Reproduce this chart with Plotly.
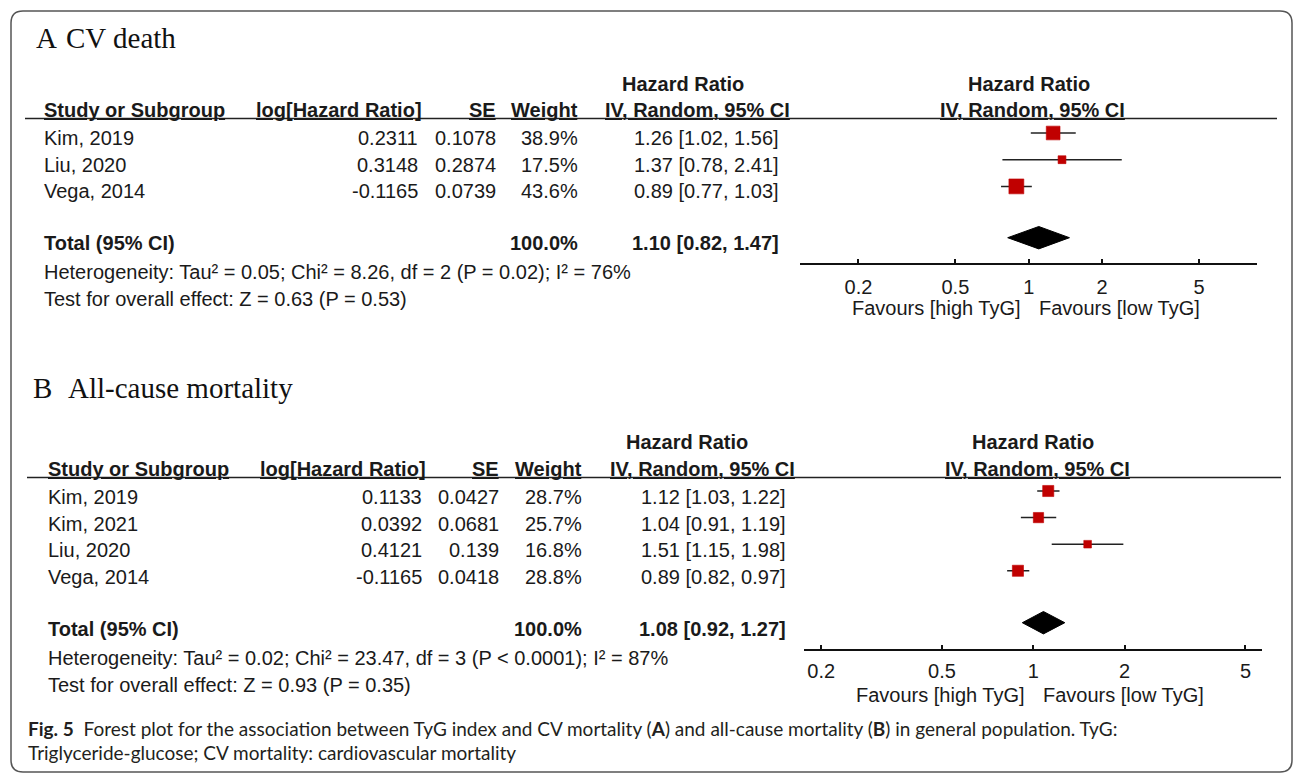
import numpy as np
import plotly.graph_objects as go

W, H = 1295, 776

# ---------------- data ----------------
# A: CV death
a_study = ["Kim, 2019", "Liu, 2020", "Vega, 2014"]
a_loghr = [0.2311, 0.3148, -0.1165]
a_se = [0.1078, 0.2874, 0.0739]
a_weight = [38.9, 17.5, 43.6]
a_hr = [1.26, 1.37, 0.89]
a_lo = [1.02, 0.78, 0.77]
a_hi = [1.56, 2.41, 1.03]
a_total = [1.10, 0.82, 1.47]
a_het = "Heterogeneity: Tau² = 0.05; Chi² = 8.26, df = 2 (P = 0.02); I² = 76%"
a_test = "Test for overall effect: Z = 0.63 (P = 0.53)"

# B: All-cause mortality
b_study = ["Kim, 2019", "Kim, 2021", "Liu, 2020", "Vega, 2014"]
b_loghr = [0.1133, 0.0392, 0.4121, -0.1165]
b_se = [0.0427, 0.0681, 0.139, 0.0418]
b_weight = [28.7, 25.7, 16.8, 28.8]
b_hr = [1.12, 1.04, 1.51, 0.89]
b_lo = [1.03, 0.91, 1.15, 0.82]
b_hi = [1.22, 1.19, 1.98, 0.97]
b_total = [1.08, 0.92, 1.27]
b_het = "Heterogeneity: Tau² = 0.02; Chi² = 23.47, df = 3 (P < 0.0001); I² = 87%"
b_test = "Test for overall effect: Z = 0.93 (P = 0.35)"

tick_vals = [0.2, 0.5, 1, 2, 5]
tick_text = ["0.2", "0.5", "1", "2", "5"]

# ---------------- styling ----------------
SANS = "Liberation Sans, Arial, sans-serif"
SERIF = "Liberation Serif, Times New Roman, serif"
CAP = "Lato, sans-serif"
TXT = "#1a1a1a"
RED = "#c00000"
FS = 20

# pixel geometry of each panel
geo = {
    "A": dict(title="CV death", letter_x=35, title_x=65, title_y=38,
              header_y=118.5, axis_y=263.3, row0=133.0, row_h=26.7, total_y=237.7,
              one_x=1028.7, px_dec=243.6, ax0=800.0, ax1=1257.0,
              line_x0=25, line_x1=1277, dy=5, tick_gap=5,
              c_name=42.7, c_log=419.5, c_log_h=423, c_se=497, c_wt=579, c_ci=780,
              hr_c=683, iv_c=697.5, head1_y=84, head2_y=110,
              het_y=272, test_y=299, fav_y=308),
    "B": dict(title="All-cause mortality", letter_x=32, title_x=67, title_y=388,
              header_y=477.5, axis_y=649.3, row0=491.0, row_h=26.6, total_y=622.7,
              one_x=1033.3, px_dec=303.5, ax0=804.3, ax1=1261.7,
              line_x0=27, line_x1=1281, dy=6, tick_gap=3,
              c_name=46.7, c_log=423.3, c_log_h=427.3, c_se=499.5, c_wt=583.3, c_ci=786.7,
              hr_c=687, iv_c=702.5, head1_y=441.7, head2_y=469,
              het_y=658, test_y=685, fav_y=695),
}

panels = {
    "A": dict(study=a_study, loghr=a_loghr, se=a_se, weight=a_weight,
              hr=a_hr, lo=a_lo, hi=a_hi, total=a_total, het=a_het, test=a_test),
    "B": dict(study=b_study, loghr=b_loghr, se=b_se, weight=b_weight,
              hr=b_hr, lo=b_lo, hi=b_hi, total=b_total, het=b_het, test=b_test),
}


def px(x):
    return x / W


def py(y):
    return 1 - y / H


annotations = []
shapes = []


def ann(text, x, y, xanchor="left", size=FS, font=SANS, color=TXT,
        xref="paper", yref="paper", yshift=0, xshift=0):
    annotations.append(dict(
        text=text, x=x, y=y, xref=xref, yref=yref, xanchor=xanchor, yanchor="middle",
        showarrow=False, font=dict(family=font, size=size, color=color),
        xshift=xshift, yshift=yshift, borderpad=0))


fig = go.Figure()
layout_axes = {}

for i, key in enumerate(["A", "B"]):
    g = geo[key]
    d = panels[key]
    n = len(d["study"])
    xa = "x" if i == 0 else "x2"
    ya = "y" if i == 0 else "y2"
    xname = "xaxis" if i == 0 else "xaxis2"
    yname = "yaxis" if i == 0 else "yaxis2"
    xoname = "xaxis3" if i == 0 else "xaxis4"

    rows = list(range(n))
    total_row = (g["total_y"] - g["row0"]) / g["row_h"]
    y_bottom = (g["axis_y"] - g["row0"]) / g["row_h"]
    y_top = (g["header_y"] - g["row0"]) / g["row_h"]
    x_range = [(g["ax0"] - g["one_x"]) / g["px_dec"], (g["ax1"] - g["one_x"]) / g["px_dec"]]

    # confidence intervals
    cx, cy = [], []
    for r, lo, hi in zip(rows, d["lo"], d["hi"]):
        cx += [lo, hi, None]
        cy += [r, r, None]
    fig.add_trace(go.Scatter(x=cx, y=cy, mode="lines", xaxis=xa, yaxis=ya,
                             line=dict(color="#222222", width=1.5),
                             hoverinfo="skip", showlegend=False))
    # study estimates, square size scaled by weight
    sizes = [1.06 * w ** 0.7 for w in d["weight"]]
    fig.add_trace(go.Scatter(x=d["hr"], y=rows, mode="markers", xaxis=xa, yaxis=ya,
                             marker=dict(symbol="square", size=sizes, color=RED, opacity=1,
                                         line=dict(width=0.6, color=RED)),
                             showlegend=False))
    # pooled estimate diamond
    hr_t, lo_t, hi_t = d["total"]
    hh = 11.2 / g["row_h"]
    fig.add_trace(go.Scatter(x=[lo_t, hr_t, hi_t, hr_t, lo_t],
                             y=[total_row, total_row - hh, total_row, total_row + hh, total_row],
                             mode="lines", fill="toself", fillcolor="#000000",
                             line=dict(color="#000000", width=1), xaxis=xa, yaxis=ya,
                             showlegend=False, hoverinfo="skip"))

    common_x = dict(type="log", domain=[px(g["ax0"]), px(g["ax1"])], range=x_range,
                    showgrid=False, zeroline=False, tickvals=tick_vals)
    # labelled axis carries the short upper tick stubs
    layout_axes[xname] = dict(common_x, anchor=ya, showline=True, linecolor="#111111",
                              linewidth=1.5, ticks="inside", ticklen=5, tickwidth=1.5,
                              tickcolor="#111111", ticktext=tick_text,
                              tickfont=dict(family=SANS, size=FS, color=TXT),
                              ticklabelstandoff=g["tick_gap"])
    # overlay axis carries the lower tick stubs
    layout_axes[xoname] = dict(common_x, overlaying=xa, anchor=ya, showline=False,
                               ticks="outside", ticklen=8, tickwidth=1.5, tickcolor="#111111",
                               showticklabels=False, side="bottom")
    layout_axes[yname] = dict(domain=[py(g["axis_y"]), py(g["header_y"])],
                              range=[y_bottom, y_top], visible=False, anchor=xa)

    # line of no effect
    shapes.append(dict(type="line", xref=xa, yref=f"{ya} domain", x0=0, x1=0, y0=0, y1=1,
                       line=dict(color="#111111", width=1.5)))
    # header rule
    shapes.append(dict(type="line", xref="paper", yref="paper",
                       x0=px(g["line_x0"]), x1=px(g["line_x1"]),
                       y0=py(g["header_y"]), y1=py(g["header_y"]),
                       line=dict(color="#222222", width=1.5)))

    # panel title
    ann(key, px(g["letter_x"]), py(g["title_y"]), size=29, font=SERIF, color="#111111")
    ann(g["title"], px(g["title_x"]), py(g["title_y"]), size=29, font=SERIF, color="#111111")

    # column headers
    ann("<b>Hazard Ratio</b>", px(g["hr_c"]), py(g["head1_y"]), xanchor="center")
    ann("<b><u>Study or Subgroup</u></b>", px(g["c_name"]), py(g["head2_y"]))
    ann("<b><u>log[Hazard Ratio]</u></b>", px(g["c_log_h"]), py(g["head2_y"]), xanchor="right")
    ann("<b><u>SE</u></b>", px(g["c_se"]), py(g["head2_y"]), xanchor="right")
    ann("<b><u>Weight</u></b>", px(g["c_wt"]), py(g["head2_y"]), xanchor="right")
    ann("<b><u>IV, Random, 95% CI</u></b>", px(g["iv_c"]), py(g["head2_y"]), xanchor="center")
    ann("<b>Hazard Ratio</b>", 0, py(g["head1_y"]), xanchor="center", xref=xa)
    ann("<b><u>IV, Random, 95% CI</u></b>", 0, py(g["head2_y"]), xanchor="center",
        xref=xa, xshift=4)

    # study rows
    for r in rows:
        ys = -g["dy"]
        ann(d["study"][r], px(g["c_name"]), r, yref=ya, yshift=ys)
        ann(f"{d['loghr'][r]:g}", px(g["c_log"]), r, xanchor="right", yref=ya, yshift=ys)
        ann(f"{d['se'][r]:g}", px(g["c_se"]), r, xanchor="right", yref=ya, yshift=ys)
        ann(f"{d['weight'][r]:.1f}%", px(g["c_wt"]), r, xanchor="right", yref=ya, yshift=ys)
        ann(f"{d['hr'][r]:.2f} [{d['lo'][r]:.2f}, {d['hi'][r]:.2f}]", px(g["c_ci"]), r,
            xanchor="right", yref=ya, yshift=ys)

    # total row
    ys = -g["dy"]
    ann("<b>Total (95% CI)</b>", px(g["c_name"]), total_row, yref=ya, yshift=ys)
    ann(f"<b>{sum(d['weight']):.1f}%</b>", px(g["c_wt"]), total_row, xanchor="right",
        yref=ya, yshift=ys)
    ann(f"<b>{hr_t:.2f} [{lo_t:.2f}, {hi_t:.2f}]</b>", px(g["c_ci"]), total_row,
        xanchor="right", yref=ya, yshift=ys)
    ann(d["het"], px(g["c_name"]), py(g["het_y"]))
    ann(d["test"], px(g["c_name"]), py(g["test_y"]))

    # favours labels either side of the null line
    ann("Favours [high TyG]", 0, py(g["fav_y"]), xanchor="right", xref=xa, xshift=-7)
    ann("Favours [low TyG]", 0, py(g["fav_y"]), xanchor="left", xref=xa, xshift=9)

# caption
ann("<b>Fig. 5</b>  Forest plot for the association between TyG index and CV mortality "
    "(<b>A</b>) and all-cause mortality (<b>B</b>) in general population. TyG:",
    px(27), py(728), size=19, font=CAP, color="#231f20")
ann("Triglyceride-glucose; CV mortality: cardiovascular mortality",
    px(27), py(752), size=19, font=CAP, color="#231f20")

# rounded frame
x0, y0, x1, y1, rr = 11, 11, 1292, 772, 12
path = (f"M {px(x0 + rr)},{py(y0)} L {px(x1 - rr)},{py(y0)} "
        f"Q {px(x1)},{py(y0)} {px(x1)},{py(y0 + rr)} "
        f"L {px(x1)},{py(y1 - rr)} Q {px(x1)},{py(y1)} {px(x1 - rr)},{py(y1)} "
        f"L {px(x0 + rr)},{py(y1)} Q {px(x0)},{py(y1)} {px(x0)},{py(y1 - rr)} "
        f"L {px(x0)},{py(y0 + rr)} Q {px(x0)},{py(y0)} {px(x0 + rr)},{py(y0)} Z")
shapes.append(dict(type="path", path=path, xref="paper", yref="paper",
                   line=dict(color="#555555", width=1.5)))

fig.update_layout(width=W, height=H, margin=dict(l=0, r=0, t=0, b=0),
                  paper_bgcolor="white", plot_bgcolor="white",
                  annotations=annotations, shapes=shapes, showlegend=False,
                  **layout_axes)

fig.write_html("out.html", config={"displayModeBar": False})
